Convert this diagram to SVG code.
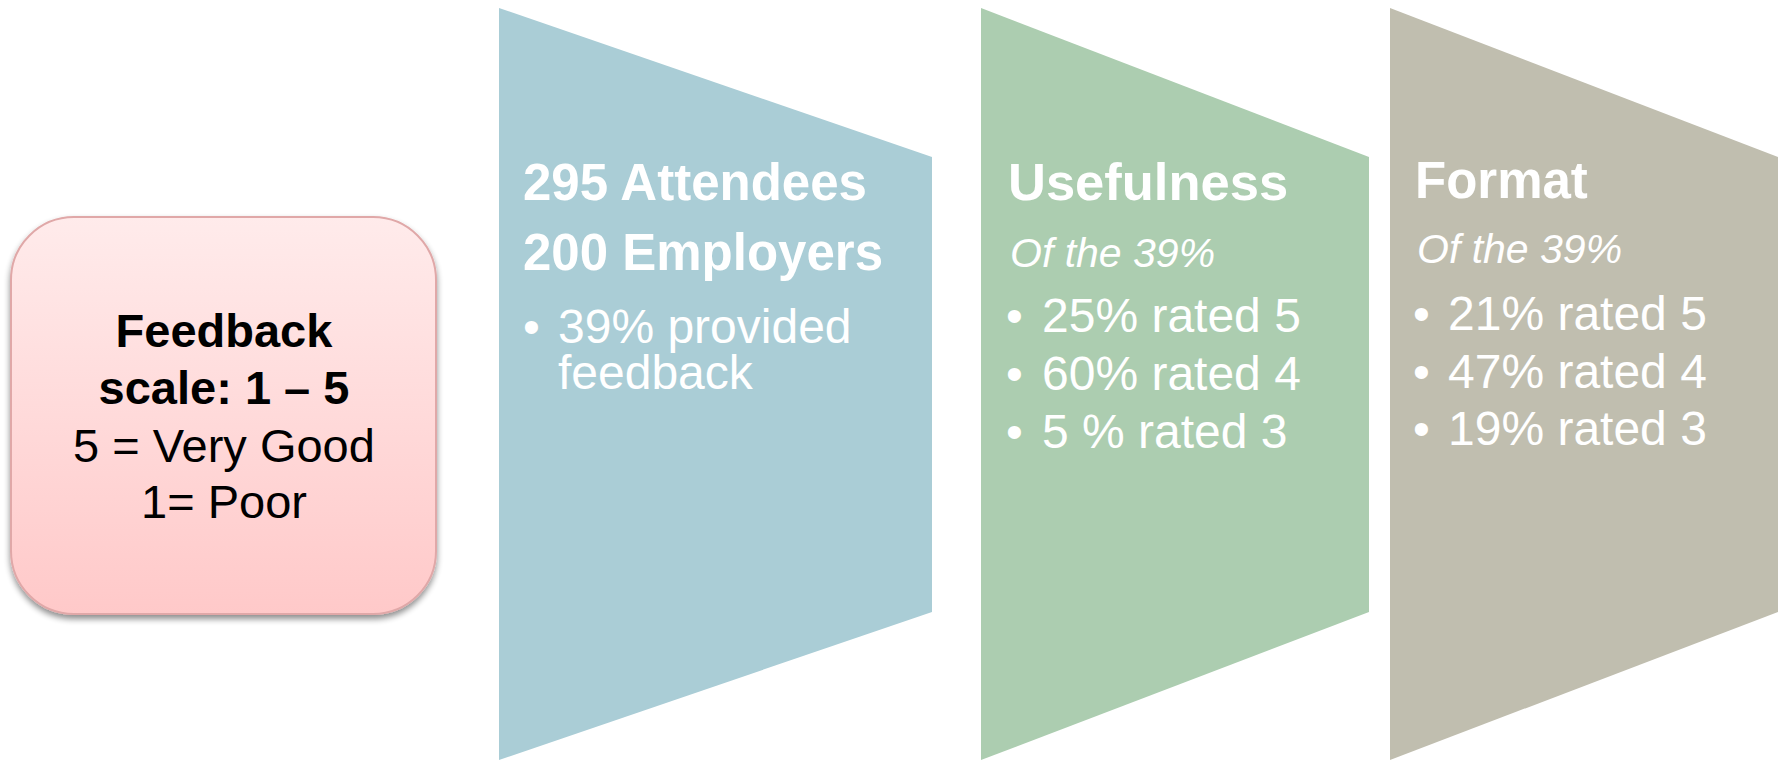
<svg xmlns="http://www.w3.org/2000/svg" width="1785" height="760" viewBox="0 0 1785 760">
<style>
text{font-family:"Liberation Sans",Arial,sans-serif;}
.hd{font-weight:bold;font-size:51px;fill:#fff;}
.it{font-style:italic;font-size:41px;fill:#fff;}
.bl{font-size:48px;fill:#fff;}
.pk{font-size:47px;fill:#000;text-anchor:middle;}
.b{font-weight:bold;}
</style>
<defs>
<linearGradient id="pg" x1="0" y1="0" x2="0" y2="1">
<stop offset="0" stop-color="#ffebeb"/>
<stop offset="1" stop-color="#ffc9c9"/>
</linearGradient>
<filter id="sh" x="-10%" y="-10%" width="120%" height="125%">
<feGaussianBlur in="SourceAlpha" stdDeviation="3"/>
<feOffset dy="4" result="b"/>
<feComponentTransfer><feFuncA type="linear" slope="0.45"/></feComponentTransfer>
<feMerge><feMergeNode/><feMergeNode in="SourceGraphic"/></feMerge>
</filter>
</defs>
<g id="feedback-scale">
<rect x="11" y="217" width="425" height="397" rx="63" ry="63" fill="url(#pg)" stroke="#e0a8a8" stroke-width="2" filter="url(#sh)"/>
<text class="pk b" x="224" y="347">Feedback</text>
<text class="pk b" x="224" y="404">scale: 1 – 5</text>
<text class="pk" x="224" y="462">5 = Very Good</text>
<text class="pk" x="224" y="518">1= Poor</text>
</g>
<g id="attendees">
<polygon points="499,8 932,157 932,612 499,760" fill="#aacdd6"/>
<text class="hd" x="523" y="200">295 Attendees</text>
<text class="hd" x="523" y="270">200 Employers</text>
<text class="bl" x="523" y="343">•</text>
<text class="bl"><tspan x="558" y="343">39% provided</tspan><tspan x="558" y="389">feedback</tspan></text>
</g>
<g id="usefulness">
<polygon points="981,8 1369,157 1369,612 981,760" fill="#accdb0"/>
<text class="hd" x="1008" y="200" style="font-size:52.5px">Usefulness</text>
<text class="it" x="1010" y="267">Of the 39%</text>
<text class="bl" x="1006" y="332">•</text>
<text class="bl" x="1042" y="332">25% rated 5</text>
<text class="bl" x="1006" y="390">•</text>
<text class="bl" x="1042" y="390">60% rated 4</text>
<text class="bl" x="1006" y="448">•</text>
<text class="bl" x="1042" y="448">5 % rated 3</text>
</g>
<g id="format">
<polygon points="1390,8 1778,157 1778,612 1390,760" fill="#c0beaf"/>
<text class="hd" x="1415" y="198">Format</text>
<text class="it" x="1417" y="263">Of the 39%</text>
<text class="bl" x="1413" y="330">•</text>
<text class="bl" x="1448" y="330">21% rated 5</text>
<text class="bl" x="1413" y="388">•</text>
<text class="bl" x="1448" y="388">47% rated 4</text>
<text class="bl" x="1413" y="445">•</text>
<text class="bl" x="1448" y="445">19% rated 3</text>
</g>
<g id="connectors"/>
</svg>
